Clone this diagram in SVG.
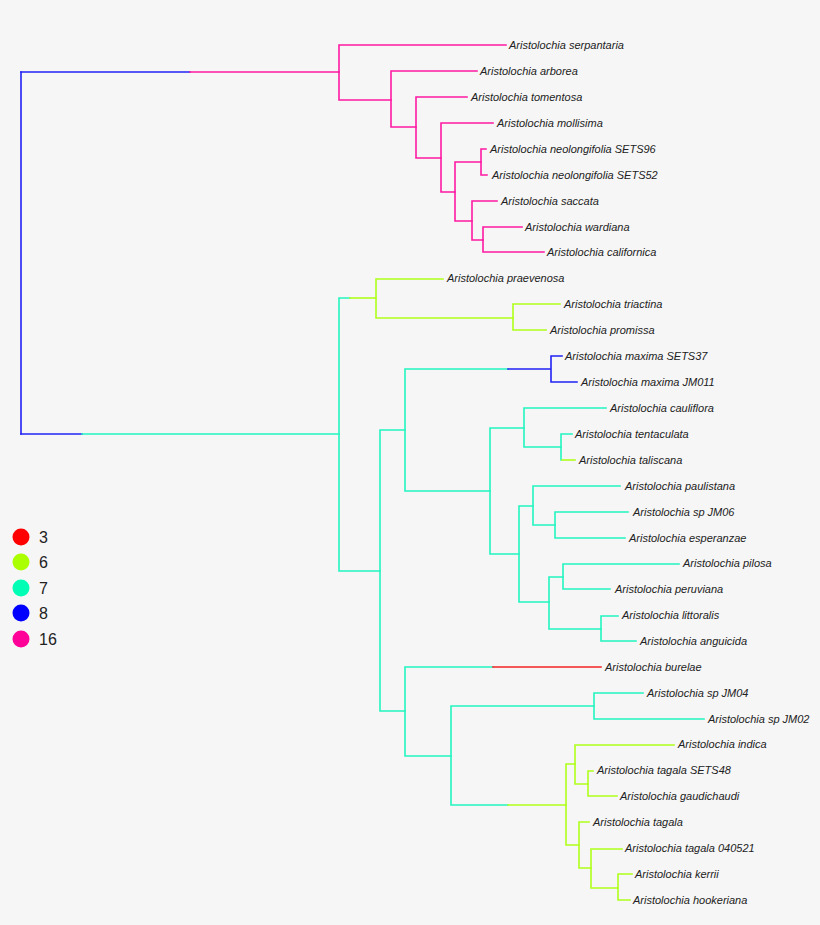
<svg xmlns="http://www.w3.org/2000/svg" width="820" height="925" viewBox="0 0 820 925">
<style>
.e{fill:none;stroke-width:1.6;stroke-linecap:square}
.pk{stroke:#FF1AA3}
.bl{stroke:#2222F5}
.cy{stroke:#22F5C0}
.lm{stroke:#B0FF1A}
.rd{stroke:#F52020}
text.t{font-family:"Liberation Sans",Arial,sans-serif;font-style:italic;font-size:11px;fill:#222}
text.lg{font-family:"Liberation Sans",Arial,sans-serif;font-size:16px;fill:#222}
</style>
<rect width="820" height="925" fill="#F6F6F6"/>
<g id="edges">
<!-- root -->
<path class="e bl" d="M21,72 V434"/>
<path class="e bl" d="M21,72 H190"/>
<path class="e pk" d="M190,72 H339"/>
<path class="e bl" d="M21,434 H82"/>
<path class="e cy" d="M82,434 H339"/>
<!-- pink clade -->
<path class="e pk" d="M339,45 V100 M339,45 H506 M339,100 H391"/>
<path class="e pk" d="M391,71 V127 M391,71 H477 M391,127 H416"/>
<path class="e pk" d="M416,97 V158 M416,97 H467 M416,158 H441"/>
<path class="e pk" d="M441,123 V192 M441,123 H493 M441,192 H455"/>
<path class="e pk" d="M455,162 V221 M455,162 H481 M455,221 H472"/>
<path class="e pk" d="M481,149 V175 M481,149 H486 M481,175 H487"/>
<path class="e pk" d="M472,201 V240 M472,201 H497 M472,240 H483"/>
<path class="e pk" d="M483,227 V252 M483,227 H522 M483,252 H544"/>
<!-- node 339 lower -->
<path class="e cy" d="M339,298 V571 M339,298 H350 M339,571 H380"/>
<path class="e lm" d="M350,298 H376"/>
<path class="e lm" d="M376,279 V318 M376,279 H443 M376,318 H513"/>
<path class="e lm" d="M513,304 V330 M513,304 H560 M513,330 H546"/>
<path class="e cy" d="M380,430 V711 M380,430 H405 M380,711 H405"/>
<path class="e cy" d="M405,369 V491 M405,369 H508 M405,491 H490"/>
<path class="e bl" d="M508,369 H551 M551,356 V382 M551,356 H562 M551,382 H577"/>
<path class="e cy" d="M490,428 V554 M490,428 H524 M490,554 H519"/>
<path class="e cy" d="M524,408 V447 M524,408 H606 M524,447 H561"/>
<path class="e cy" d="M561,434 V460 M561,434 H572"/>
<path class="e lm" d="M562,460 H575"/>
<path class="e cy" d="M519,506 V602 M519,506 H533 M519,602 H549"/>
<path class="e cy" d="M533,486 V525 M533,486 H620 M533,525 H555"/>
<path class="e cy" d="M555,512 V538 M555,512 H628 M555,538 H625"/>
<path class="e cy" d="M549,577 V629 M549,577 H563 M549,629 H601"/>
<path class="e cy" d="M563,564 V589 M563,564 H679 M563,589 H610"/>
<path class="e cy" d="M601,616 V641 M601,616 H618 M601,641 H636"/>
<path class="e cy" d="M405,667 V756 M405,667 H493 M405,756 H451"/>
<path class="e rd" d="M493,667 H601"/>
<path class="e cy" d="M451,706 V805 M451,706 H594 M451,805 H508"/>
<path class="e cy" d="M594,693 V719 M594,693 H643 M594,719 H704"/>
<path class="e lm" d="M508,805 H566"/>
<path class="e lm" d="M566,764 V845 M566,764 H575 M566,845 H579"/>
<path class="e lm" d="M575,745 V784 M575,745 H674 M575,784 H588"/>
<path class="e lm" d="M588,771 V796 M588,771 H593 M588,796 H617"/>
<path class="e lm" d="M579,822 V868 M579,822 H589 M579,868 H591"/>
<path class="e lm" d="M591,849 V888 M591,849 H622 M591,888 H618"/>
<path class="e lm" d="M618,874 V900 M618,874 H632 M618,900 H630"/>
</g>
<g id="labels">
<text class="t" x="509" y="49">Aristolochia serpantaria</text>
<text class="t" x="480" y="75">Aristolochia arborea</text>
<text class="t" x="471" y="101">Aristolochia tomentosa</text>
<text class="t" x="497" y="127">Aristolochia mollisima</text>
<text class="t" x="490" y="153">Aristolochia neolongifolia SETS96</text>
<text class="t" x="492" y="179">Aristolochia neolongifolia SETS52</text>
<text class="t" x="501" y="205">Aristolochia saccata</text>
<text class="t" x="525" y="231">Aristolochia wardiana</text>
<text class="t" x="547" y="256">Aristolochia californica</text>
<text class="t" x="447" y="282">Aristolochia praevenosa</text>
<text class="t" x="564" y="308">Aristolochia triactina</text>
<text class="t" x="550" y="334">Aristolochia promissa</text>
<text class="t" x="565" y="360">Aristolochia maxima SETS37</text>
<text class="t" x="581" y="386">Aristolochia maxima JM011</text>
<text class="t" x="610" y="412">Aristolochia cauliflora</text>
<text class="t" x="575" y="438">Aristolochia tentaculata</text>
<text class="t" x="579" y="464">Aristolochia taliscana</text>
<text class="t" x="625" y="490">Aristolochia paulistana</text>
<text class="t" x="633" y="516">Aristolochia sp JM06</text>
<text class="t" x="629" y="542">Aristolochia esperanzae</text>
<text class="t" x="683" y="567">Aristolochia pilosa</text>
<text class="t" x="615" y="593">Aristolochia peruviana</text>
<text class="t" x="622" y="619">Aristolochia littoralis</text>
<text class="t" x="640" y="645">Aristolochia anguicida</text>
<text class="t" x="605" y="671">Aristolochia burelae</text>
<text class="t" x="647" y="697">Aristolochia sp JM04</text>
<text class="t" x="708" y="723">Aristolochia sp JM02</text>
<text class="t" x="678" y="748">Aristolochia indica</text>
<text class="t" x="597" y="774">Aristolochia tagala SETS48</text>
<text class="t" x="620" y="800">Aristolochia gaudichaudi</text>
<text class="t" x="593" y="826">Aristolochia tagala</text>
<text class="t" x="625" y="852">Aristolochia tagala 040521</text>
<text class="t" x="635" y="878">Aristolochia kerrii</text>
<text class="t" x="633" y="904">Aristolochia hookeriana</text>
</g>
<g id="legend">
<circle cx="21" cy="537" r="8.5" fill="#FF0000"/>
<text class="lg" x="39" y="543">3</text>
<circle cx="21" cy="562" r="8.5" fill="#AAFF00"/>
<text class="lg" x="39" y="568">6</text>
<circle cx="21" cy="588" r="8.5" fill="#00FFB4"/>
<text class="lg" x="39" y="594">7</text>
<circle cx="21" cy="613" r="8.5" fill="#0000FF"/>
<text class="lg" x="39" y="619">8</text>
<circle cx="21" cy="639" r="8.5" fill="#FF0099"/>
<text class="lg" x="39" y="645">16</text>
</g>
</svg>
